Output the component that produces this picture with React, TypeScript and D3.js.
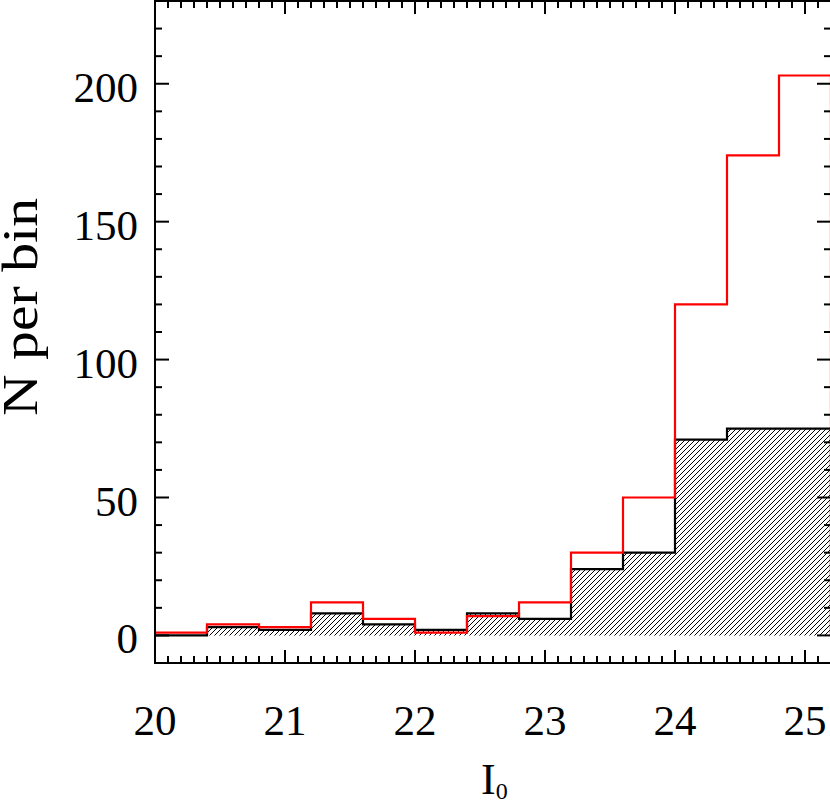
import React from 'react';
import * as d3 from 'd3';

// bin edges in I0, width 0.4
const binEdges = [20.0, 20.4, 20.8, 21.2, 21.6, 22.0, 22.4, 22.8, 23.2, 23.6, 24.0, 24.4, 24.8, 25.2];
// red outline histogram
const redCounts = [1, 4, 3, 12, 6, 1, 7, 12, 30, 50, 120, 174, 203];
// black hatched histogram
const blackCounts = [0, 3, 2, 8, 4, 2, 8, 6, 24, 30, 71, 75, 75];

const xMajor = [20, 21, 22, 23, 24, 25];
const yMajor = [0, 50, 100, 150, 200];

const W = 830;
const H = 800;
const FONT = '"Liberation Serif", "Times New Roman", serif';

const App = () => {
  const x = d3.scaleLinear().domain([20, 25.2]).range([155, 831]);
  const y = d3.scaleLinear().domain([-10, 230]).range([663, 1]);

  const xMinor = d3.range(200, 253).map(i => i / 10);
  const yMinor = d3.range(-10, 231, 10);

  // step points: each bin value starts at its left edge, last one carried to the right edge
  const stepPts = (counts: number[]) => {
    const pts: [number, number][] = counts.map((c, i) => [binEdges[i], c]);
    pts.push([binEdges[binEdges.length - 1], counts[counts.length - 1]]);
    return pts;
  };

  const line = d3.line<[number, number]>()
    .x(d => x(d[0]))
    .y(d => y(d[1]))
    .curve(d3.curveStepAfter);

  const area = d3.area<[number, number]>()
    .x(d => x(d[0]))
    .y0(y(0))
    .y1(d => y(d[1]))
    .curve(d3.curveStepAfter);

  const blackPts = stepPts(blackCounts);
  const redPts = stepPts(redCounts);
  const withEnds = (pts: [number, number][]) =>
    [[pts[0][0], 0] as [number, number], ...pts, [pts[pts.length - 1][0], 0] as [number, number]];

  const top = y(230);
  const bottom = y(-10);
  const left = x(20);
  const right = x(25.2);

  return (
    <svg width={W} height={H} style={{ position: 'absolute', left: 0, top: 0, background: '#fff' }}>
      <defs>
        <pattern id="hatch" width="5" height="5" patternUnits="userSpaceOnUse">
          <path d="M0,5 L5,0 M-1,1 L1,-1 M4,6 L6,4" stroke="#000" strokeWidth="1.3" shapeRendering="crispEdges" />
        </pattern>
        <clipPath id="plotClip">
          <rect x={left} y={top} width={right - left} height={bottom - top} />
        </clipPath>
      </defs>

      <g clipPath="url(#plotClip)">
        <path d={area(blackPts) || ''} fill="url(#hatch)" />
        <path d={line(withEnds(blackPts)) || ''} fill="none" stroke="#000" strokeWidth="2.2" />
        <path d={line(withEnds(redPts)) || ''} fill="none" stroke="#ff0000" strokeWidth="2.2" />
      </g>

      {/* frame */}
      <rect x={left} y={top} width={right - left} height={bottom - top} fill="none" stroke="#000" strokeWidth="2" />

      {/* x ticks, bottom and top */}
      {xMinor.map(v => {
        const major = Math.abs(v - Math.round(v)) < 1e-6;
        const len = major ? 13 : 7;
        return (
          <g key={`xt${v}`} stroke="#000" strokeWidth="2">
            <line x1={x(v)} x2={x(v)} y1={bottom} y2={bottom - len} />
            <line x1={x(v)} x2={x(v)} y1={top} y2={top + len} />
          </g>
        );
      })}

      {/* y ticks, left and right */}
      {yMinor.map(v => {
        const major = v % 50 === 0;
        const len = major ? 14 : 7;
        return (
          <g key={`yt${v}`} stroke="#000" strokeWidth="2">
            <line x1={left} x2={left + len} y1={y(v)} y2={y(v)} />
            <line x1={right} x2={right - len} y1={y(v)} y2={y(v)} />
          </g>
        );
      })}

      {xMajor.map(v => (
        <text key={`xl${v}`} x={x(v)} y={735} textAnchor="middle" fontFamily={FONT} fontSize="43" fill="#000">
          {v}
        </text>
      ))}

      {yMajor.map(v => (
        <text key={`yl${v}`} x={138} y={y(v) + 18} textAnchor="end" fontFamily={FONT} fontSize="43" fill="#000">
          {v}
        </text>
      ))}

      <text transform="translate(37,307) rotate(-90)" textAnchor="middle" fontFamily={FONT} fontSize="50"
            textLength="218" lengthAdjust="spacingAndGlyphs" fill="#000">
        N per bin
      </text>

      <text x={481} y={794} fontFamily={FONT} fontSize="44" fill="#000">
        I<tspan fontSize="24" dy="5">0</tspan>
      </text>
    </svg>
  );
};

export default App;
